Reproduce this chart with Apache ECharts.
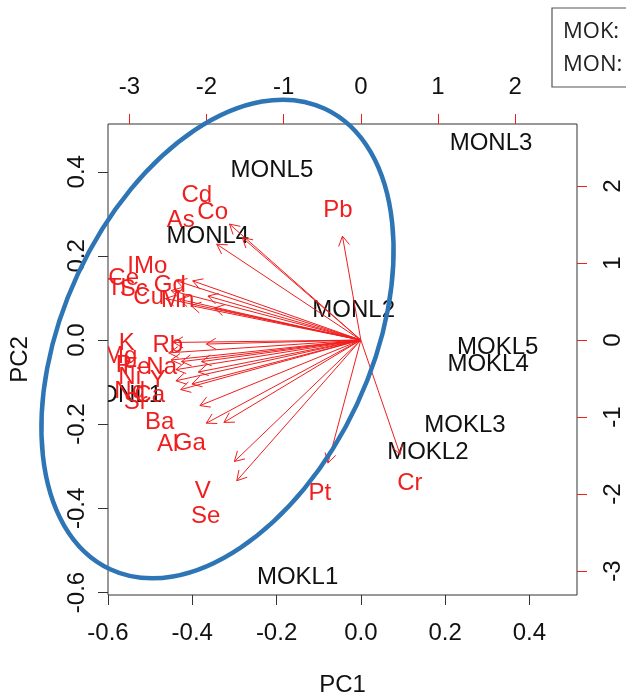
<!DOCTYPE html>
<html><head><meta charset="utf-8">
<script src="https://cdn.jsdelivr.net/npm/echarts@6/dist/echarts.min.js"></script>
<style>html,body{margin:0;padding:0;background:#fff}#c{width:626px;height:696px}</style>
</head><body><div id="c"></div>
<script>
// Scores (black labels) on PC1/PC2 axes (bottom/left)
const scoreNames = ['MONL1','MONL2','MONL3','MONL4','MONL5','MOKL1','MOKL2','MOKL3','MOKL4','MOKL5'];
const scorePC1 = [-0.570,-0.017,0.309,-0.363,-0.211,-0.150,0.159,0.247,0.302,0.325];
const scorePC2 = [-0.131,0.071,0.468,0.247,0.404,-0.565,-0.268,-0.204,-0.059,-0.017];
// Loadings (red labels/arrows) on top/right axes
const varNames = ['Pb','Cd','Co','As','I','Mo','Ce','Ti','Sc','Gd','Cu','Mn','K','Rb','Mg','P','Fe','Na','Ni','Y','Nd','Ca','Sr','Ba','Al','Ga','V','Se','Pt','Cr'];
const loadPC1 = [-0.298,-2.127,-1.920,-2.335,-2.983,-2.724,-3.074,-3.165,-2.944,-2.477,-2.750,-2.374,-3.035,-2.503,-3.113,-3.074,-2.905,-2.581,-2.996,-2.633,-2.996,-2.737,-2.918,-2.607,-2.503,-2.218,-2.049,-2.010,-0.532,0.636];
const loadPC2 = [1.686,1.881,1.660,1.556,0.960,0.960,0.804,0.674,0.661,0.713,0.558,0.519,-0.039,-0.065,-0.208,-0.324,-0.350,-0.350,-0.480,-0.519,-0.661,-0.713,-0.804,-1.064,-1.349,-1.336,-1.971,-2.283,-1.997,-1.855];
// Tick labels
const pcTicks = [-0.6,-0.4,-0.2,0,0.2,0.4];
const loadTicks = [-3,-2,-1,0,1,2];
const legendLines = ['MOK:','MON:'];

const FONT = '"Liberation Sans", Arial, sans-serif';
const RED = '#F01E1E';
const ARROW_FRAC = 0.8; // biplot draws arrows to 0.8 of loading

function textRenderer(names, color){
  return function(params, api){
    const p = api.coord([api.value(0), api.value(1)]);
    return {type:'text', x:p[0], y:p[1],
      style:{text:names[params.dataIndex], fill:color, font:'24px ' + FONT, align:'center', verticalAlign:'middle', textAlign:'center', textVerticalAlign:'middle'}};
  };
}
function arrowRenderer(params, api){
  const p0 = api.coord([0,0]);
  const p1 = api.coord([api.value(0)*ARROW_FRAC, api.value(1)*ARROW_FRAC]);
  const ang = Math.atan2(p1[1]-p0[1], p1[0]-p0[0]);
  const L = 11, a = Math.PI/6;
  const h1 = [p1[0]-L*Math.cos(ang-a), p1[1]-L*Math.sin(ang-a)];
  const h2 = [p1[0]-L*Math.cos(ang+a), p1[1]-L*Math.sin(ang+a)];
  return {type:'group', children:[
    {type:'line', shape:{x1:p0[0],y1:p0[1],x2:p1[0],y2:p1[1]}, style:{stroke:RED, lineWidth:1}},
    {type:'polyline', shape:{points:[h1,p1,h2]}, style:{stroke:RED, lineWidth:1, fill:null}}
  ]};
}

const K = 5.462;
const xMin = -0.6, xMax = 0.513, yMin = -0.606, yMax = 0.5135;

function axisCommon(ticks, fmt, tickColor, margin, rotate){
  return {
    type:'value', axisLine:{show:false, onZero:false}, splitLine:{show:false},
    axisTick:{show:true, length:10, customValues:ticks, lineStyle:{color:tickColor, width:1}},
    axisLabel:{customValues:ticks, formatter:fmt, fontSize:24, fontFamily:FONT, color:'#111', margin:margin, rotate:rotate||0}
  };
}
const fmt1 = v => Number(v).toFixed(1);
const fmt0 = v => String(Math.round(v));

const chart = echarts.init(document.getElementById('c'), null, {renderer:'canvas'});
chart.setOption({
  animation:false,
  backgroundColor:'#fff',
  grid:{left:108, top:124, width:469, height:471, show:true, borderColor:'#333', borderWidth:1, backgroundColor:'transparent',
    containLabel:false, outerBoundsMode:'none'},
  xAxis:[
    Object.assign(axisCommon(pcTicks, fmt1, '#333', 26), {position:'bottom', min:xMin, max:xMax,
      name:'PC1', nameLocation:'middle', nameGap:78, nameTextStyle:{fontSize:24, fontFamily:FONT, color:'#111'}}),
    Object.assign(axisCommon(loadTicks, fmt0, RED, 25), {position:'top', min:xMin*K, max:xMax*K})
  ],
  yAxis:[
    Object.assign(axisCommon(pcTicks, fmt1, '#333', 19, 90), {position:'left', min:yMin, max:yMax,
      name:'PC2', nameLocation:'middle', nameGap:76, nameRotate:90, nameTextStyle:{fontSize:24, fontFamily:FONT, color:'#111'}}),
    Object.assign(axisCommon(loadTicks, fmt0, RED, 24, 90), {position:'right', min:yMin*K, max:yMax*K})
  ],
  series:[
    {type:'custom', name:'scores', xAxisIndex:0, yAxisIndex:0, clip:true, z:2,
      data: scorePC1.map((x,i)=>[x, scorePC2[i]]), renderItem:textRenderer(scoreNames, '#111')},
    {type:'custom', name:'varlabels', xAxisIndex:1, yAxisIndex:1, clip:true, z:3,
      data: loadPC1.map((x,i)=>[x, loadPC2[i]]), renderItem:textRenderer(varNames, RED)},
    {type:'custom', name:'arrows', xAxisIndex:1, yAxisIndex:1, clip:true, z:4,
      data: loadPC1.map((x,i)=>[x, loadPC2[i]]), renderItem:arrowRenderer}
  ],
  graphic:[
    {type:'ellipse', x:217.5, y:339, rotation:65*Math.PI/180, shape:{cx:0, cy:0, rx:254, ry:154},
      style:{fill:'transparent', stroke:'#2E75B6', lineWidth:4.5}, z:100},
    {type:'rect', shape:{x:552, y:8, width:120, height:79}, style:{fill:'#fff', stroke:'#555', lineWidth:1.2}, z:100},
    {type:'text', x:563, y:32, style:{text:legendLines[0], font:'22px "Open Sans", sans-serif', fill:'#222', verticalAlign:'middle', textVerticalAlign:'middle'}, z:101},
    {type:'text', x:563, y:65, style:{text:legendLines[1], font:'22px "Open Sans", sans-serif', fill:'#222', verticalAlign:'middle', textVerticalAlign:'middle'}, z:101}
  ]
});
</script></body></html>
